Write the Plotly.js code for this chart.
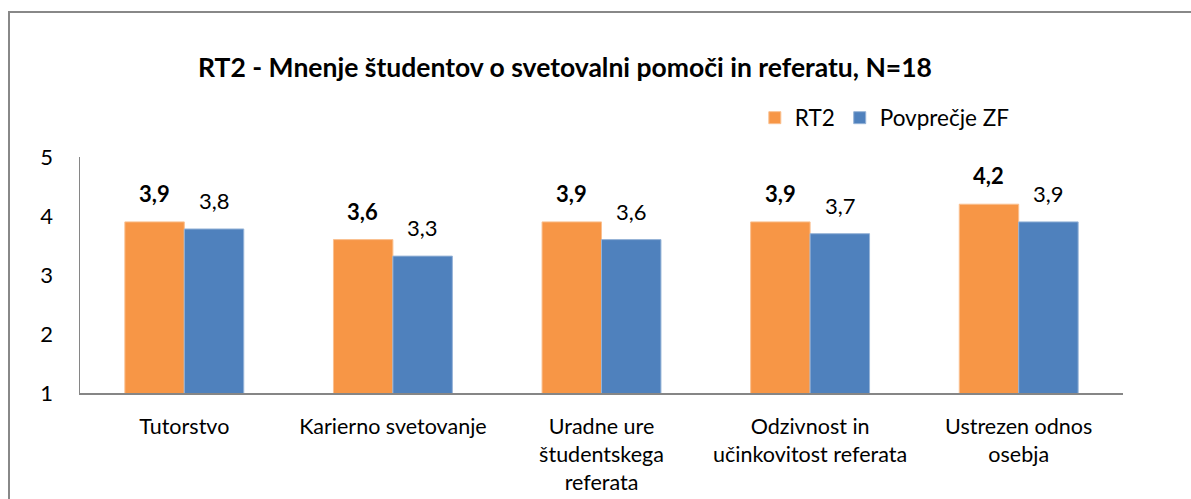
<!DOCTYPE html>
<html>
<head>
<meta charset="utf-8">
<script src="https://cdn.plot.ly/plotly-3.0.1.min.js"></script>
<style>
  html, body { margin: 0; padding: 0; background: #fff; overflow: hidden; }
  #wrap { position: relative; width: 1191px; height: 499px; overflow: hidden; }
  #chart { width: 1191px; height: 499px; }
  #frame { position: absolute; left: 8px; top: 11px; width: 1400px; height: 800px;
           border-left: 2px solid #888; border-top: 2px solid #888; pointer-events: none; }
</style>
</head>
<body>
<div id="wrap">
  <div id="chart"></div>
  <div id="frame"></div>
</div>
<script>
const categories = [
  "Tutorstvo",
  "Karierno svetovanje",
  "Uradne ure<br>študentskega<br>referata",
  "Odzivnost in<br>učinkovitost referata",
  "Ustrezen odnos<br>osebja"
];
const rt2Values = [3.9, 3.6, 3.9, 3.9, 4.2];
const zfValues = [3.78, 3.32, 3.6, 3.7, 3.9];
const seriesNames = ["RT2", "Povprečje ZF"];
const titleText = "RT2 - Mnenje študentov o svetovalni pomoči in referatu, N=18";
const yTicks = [1, 2, 3, 4, 5];

const FONT = "Lato, 'Open Sans', sans-serif";
const ORANGE = "#F79646";
const BLUE = "#4F81BD";

const traces = [
  {
    type: "bar", name: seriesNames[0], x: categories, y: rt2Values,
    marker: { color: ORANGE, line: { color: "#FAC090", width: 1 } },
    hoverinfo: "skip"
  },
  {
    type: "bar", name: seriesNames[1], x: categories, y: zfValues,
    marker: { color: BLUE, line: { color: "#95B3D7", width: 1 } },
    hoverinfo: "skip"
  }
];

function fmt(v) { return v.toFixed(1).replace(".", ","); }

const annotations = [];
categories.forEach((c, i) => {
  annotations.push({
    x: c, y: rt2Values[i], xref: "x", yref: "y", text: "<b>" + fmt(rt2Values[i]) + "</b>",
    showarrow: false, xshift: -30, yshift: 13, yanchor: "bottom",
    font: { family: FONT, size: 22, color: "#000" }
  });
  annotations.push({
    x: c, y: zfValues[i], xref: "x", yref: "y", text: fmt(zfValues[i]),
    showarrow: false, xshift: 30, yshift: 13, yanchor: "bottom",
    font: { family: FONT, size: 22, color: "#000" }
  });
});

const layout = {
  width: 1191, height: 499,
  margin: { l: 80, r: 68, t: 157, b: 106, pad: 0 },
  paper_bgcolor: "rgba(0,0,0,0)", plot_bgcolor: "rgba(0,0,0,0)",
  font: { family: FONT, size: 21, color: "#000" },
  separators: ", ",
  barmode: "group", bargap: 0.43, bargroupgap: 0,
  title: {
    text: "<b>" + titleText + "</b>",
    xref: "paper", yref: "container", x: 0.465, xanchor: "center",
    y: 0.864, yanchor: "middle",
    font: { family: FONT, size: 26.5, color: "#000" }
  },
  showlegend: true,
  legend: {
    orientation: "h", x: 0.647, xanchor: "left", y: 1.165, yanchor: "middle",
    font: { family: FONT, size: 22.5, color: "#000" },
    bgcolor: "rgba(0,0,0,0)", traceorder: "normal"
  },
  xaxis: {
    type: "category", showgrid: false, zeroline: false,
    showline: true, linecolor: "#868686", linewidth: 2,
    ticks: "", ticklabelstandoff: 13,
    tickfont: { family: FONT, size: 21.5, color: "#000" },
    fixedrange: true
  },
  yaxis: {
    range: [1, 5], tickvals: yTicks, ticktext: yTicks.map(String),
    showgrid: false, zeroline: false,
    showline: true, linecolor: "#868686", linewidth: 1.5,
    ticks: "", ticklabelstandoff: 21,
    tickfont: { family: FONT, size: 22, color: "#000" },
    fixedrange: true
  },
  annotations: annotations
};

Plotly.newPlot("chart", traces, layout, { displayModeBar: false, staticPlot: true });
</script>
</body>
</html>
